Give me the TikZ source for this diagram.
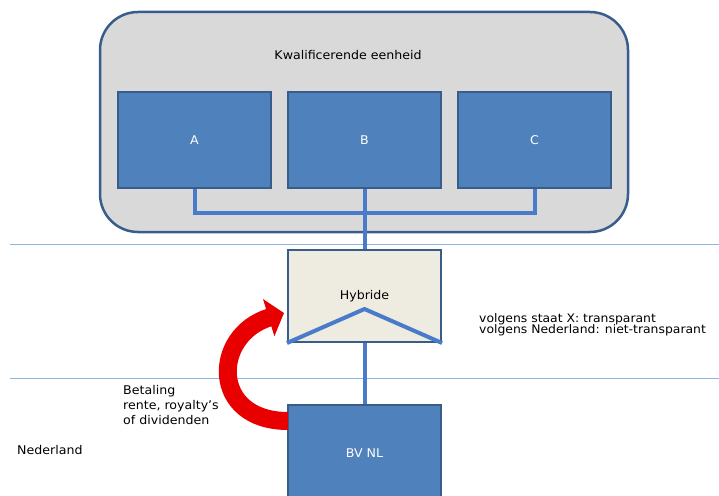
\documentclass[tikz,border=0pt]{standalone}
\usepackage{fontspec}
\setmainfont[FakeStretch=1.05]{DejaVu Sans}
\usetikzlibrary{positioning,arrows.meta}

\definecolor{unitfill}{HTML}{4F81BD}
\definecolor{unitedge}{HTML}{385D8A}
\definecolor{linkblue}{HTML}{4A7BCB}
\definecolor{groupfill}{HTML}{D9D9D9}
\definecolor{hybfill}{HTML}{EEECE1}
\definecolor{sepblue}{HTML}{8DB3E2}
\definecolor{payred}{HTML}{E80000}

\begin{document}
\begin{tikzpicture}[x=1pt, y=-1pt, font=\fontsize{12}{15}\selectfont,
	node distance=170pt, on grid,
	unit/.style={draw=unitedge, fill=unitfill, line width=2pt, text=white,
		minimum width=153pt, minimum height=96pt, inner sep=0pt},
	group/.style={draw=unitedge, fill=groupfill, line width=2.5pt,
		rounded corners=38pt, minimum width=528pt, minimum height=220pt},
	link/.style={draw=linkblue, line width=4pt},
	sep/.style={draw=sepblue, line width=1pt},
	pay/.style={draw=payred, line width=18pt,
		-{Triangle[length=16pt, width=38pt]}}]
	\useasboundingbox (0,0) rectangle (719,495);

	\draw[sep] (10,244) -- (719,244);
	\draw[sep] (10,378) -- (719,378);

	\node[group] (eenheid) at (364,122) {};
	\node (titel) at (348,55) {Kwalificerende eenheid};
	\node[unit] (b) at (364.5,140) {B};
	\node[unit] (a) [left=of b] {A};
	\node[unit] (c) [right=of b] {C};

	\node[unit, fill=hybfill, text=black, minimum height=92pt] (hyb) at (364.5,296) {Hybride};
	\node[unit, minimum height=96pt] (bvnl) at (364.5,453) {BV NL};
	\coordinate (top) at (364.5,309);

	\draw[link] (a.south) -- ++(0,24) -| (c.south);
	\draw[link] (b.south) -- (hyb.north);
	\draw[link] (hyb.south) -- (bvnl.north);
	\draw[link] (hyb.south west) -- (top) -- (hyb.south east);

	\coordinate (paystart) at (288,421);
	\coordinate (payend) at (284,313);
	\draw[pay] (paystart) .. controls (210,421) and (212,335) .. (payend);

	\node[anchor=west, align=left, inner sep=0pt, font=\fontsize{11.8}{11.5}\selectfont] (status) at (479,324.5)
		{volgens staat X: transparant\\volgens Nederland: niet-transparant};
	\node[anchor=west, align=left, inner sep=0pt] (betaling) at (123,405)
		{Betaling\\rente, royalty’s\\of dividenden};
	\node[anchor=west, inner sep=0pt] (nl) at (17,450) {Nederland};
\end{tikzpicture}
\end{document}
